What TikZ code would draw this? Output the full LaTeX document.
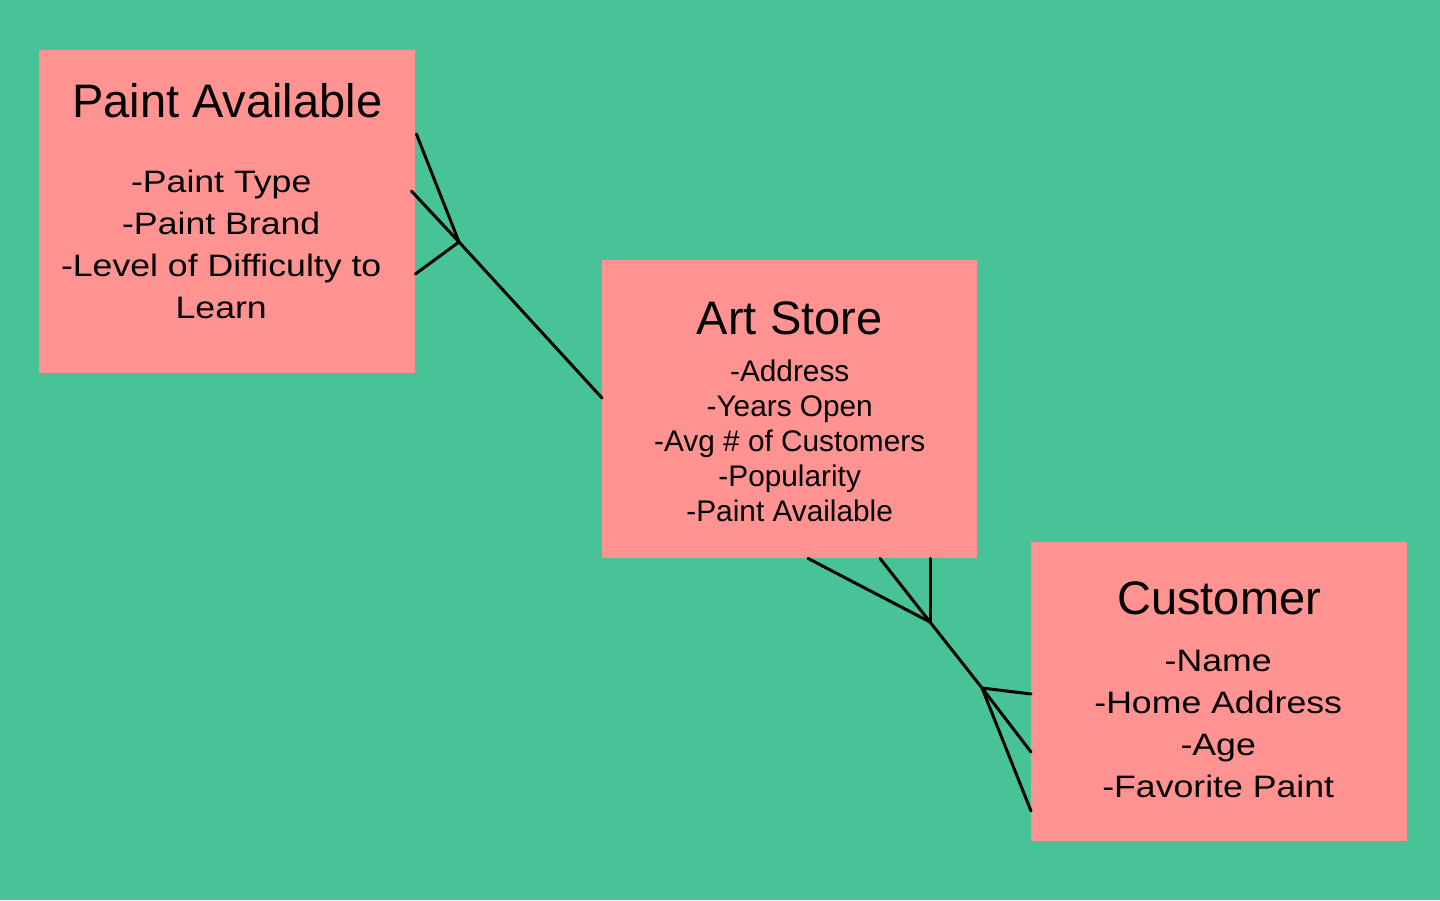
\documentclass[tikz,border=0pt]{standalone}
\usepackage{fontspec}
\setmainfont{Liberation Sans}
\newfontfamily\attrfont[FakeStretch=1.15]{Liberation Sans}
\usetikzlibrary{positioning,calc}
\definecolor{bggreen}{HTML}{48C397}
\definecolor{boxpink}{HTML}{FF9391}
\tikzset{
  entity/.style = {rectangle, fill=boxpink, inner sep=0pt, anchor=north west},
  etitle/.style = {anchor=base, inner sep=0pt,
    font=\fontsize{47}{50}\selectfont},
  eattr/.style = {anchor=base, inner sep=0pt,
    font=\attrfont\fontsize{31}{42}\selectfont},% stretched attribute text
  sattr/.style = {anchor=base, inner sep=0pt,
    font=\fontsize{29.8}{35}\selectfont},
  link/.style = {line width=3pt, black, line cap=round}
}

\begin{document}
\begin{tikzpicture}[x=1pt, y=-1pt]
\fill[bggreen] (0,0) rectangle (1440,900);
% entities
\node (paint) [entity, minimum width=376pt, minimum height=323pt] at (39,50) {};
\node (store) [entity, minimum width=375pt, minimum height=298pt] at (602,260) {};
\node (cust)  [entity, minimum width=376pt, minimum height=299pt] at (1031,542) {};
%
\node (paint-title) [etitle] at ($(paint.north)+(0,67)$) {Paint Available};
\foreach \attr [count=\i from 0] in {-Paint Type, -Paint Brand,
    -Level of Difficulty to, Learn}
  \node (paint-attr\i) [eattr] at ($(paint.north)+(-6,142+42*\i)$) {\attr};
%
\node (store-title) [etitle] at ($(store.north)+(0,74)$) {Art Store};
\foreach \attr [count=\i from 0] in {-Address, -Years Open,
    -Avg \# of Customers, -Popularity, -Paint Available}
  \node (store-attr\i) [sattr] at ($(store.north)+(0,121+35*\i)$) {\attr};
%
\node (cust-title) [etitle] at ($(cust.north)+(0,72)$) {Customer};
\foreach \attr [count=\i from 0] in {-Name, -Home Address, -Age,
    -Favorite Paint}
  \node (cust-attr\i) [eattr] at ($(cust.north)+(-1,129+42.3*\i)$) {\attr};
% crow's feet
\coordinate (paint-foot) at (459,242);
\coordinate (store-foot) at (930,622);
\coordinate (cust-foot) at (982,688);
\draw[link] (paint-foot) -- ($(paint.north east)+(1,84)$);
\draw[link] (paint-foot) -- ($(paint.north east)+(-4,141)$);
\draw[link] (paint-foot) -- ($(paint.north east)+(0,224)$);
\draw[link] (paint-foot) -- ($(store.north west)+(0,138)$);
%
\draw[link] (store-foot) -- ($(store.south west)+(206,0)$);
\draw[link] (store-foot) -- ($(store.south west)+(278,0)$);
\draw[link] (store-foot) -- ($(store.south west)+(328,0)$);
\draw[link] (store-foot) -- (cust-foot);
%
\draw[link] (cust-foot) -- ($(cust.north west)+(0,152)$);
\draw[link] (cust-foot) -- ($(cust.north west)+(0,210)$);
\draw[link] (cust-foot) -- ($(cust.north west)+(0,269)$);
\end{tikzpicture}
\end{document}
